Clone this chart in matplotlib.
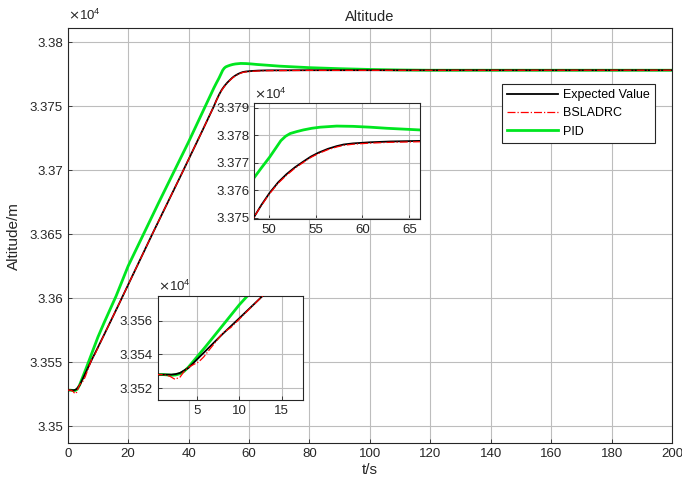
import numpy as np
import matplotlib
matplotlib.use("Agg")
import matplotlib.pyplot as plt

plt.rcParams['font.family'] = ['Liberation Sans', 'DejaVu Sans']

# ---- data (altitude in m) ----
t_exp = [0, 2, 2.5, 3, 4, 5, 6, 8, 10, 12.8, 17.1, 28, 37.9, 44, 46, 47.5, 48.4, 49.2,
         50.1, 51, 51.9, 52.8, 53.7, 54.5, 55.3, 56.3, 57.25, 58, 59, 60.8, 63, 66.1,
         80, 200]
v_exp = [33528, 33528, 33528.3, 33529, 33532, 33537, 33542, 33552, 33561.5, 33575,
         33596, 33650, 33698, 33728, 33738, 33745.5, 33750, 33754.5, 33759, 33762.8,
         33765.8, 33768.3, 33770.4, 33772.2, 33773.6, 33775, 33776, 33776.6, 33777,
         33777.4, 33777.7, 33777.9, 33778, 33778]

t_bs = [0, 1, 1.8, 2.4, 3, 3.5, 4, 4.6, 5.2, 5.8, 6.5, 7.3, 8, 9, 10, 12.8, 17.1, 28,
        37.9, 44, 46, 47.5, 48.4, 49.2, 50.1, 51, 51.9, 52.8, 53.7, 54.5, 55.3, 56.3,
        57.25, 58, 59, 60.8, 63, 66.1, 80, 200]
v_bs = [33528, 33528, 33527, 33525.2, 33526.5, 33530, 33532.3, 33534, 33535.5,
        33538.5, 33543, 33548, 33552.5, 33556, 33561, 33575, 33596, 33650, 33698,
        33728, 33738, 33745.5, 33750, 33754.3, 33758.7, 33762.5, 33765.4, 33768,
        33770.1, 33771.9, 33773.3, 33774.7, 33775.7, 33776.3, 33776.7, 33777.1,
        33777.4, 33777.6, 33777.9, 33778]

t_pid = [0, 1, 2, 2.5, 3, 3.5, 4, 5, 6, 8, 10, 12, 14, 16, 20, 30, 40, 48.4, 49.2,
         50.1, 50.8, 51.3, 51.8, 52.3, 53, 53.7, 54.6, 55.5, 57.25, 59, 60.8, 62.6,
         66.1, 70, 80, 90, 100, 110, 120, 200]
v_pid = [33528, 33528, 33527.6, 33527.8, 33528.5, 33530, 33532.5, 33538.5, 33544.5,
         33557, 33569.5, 33580.5, 33591, 33601.5, 33625, 33674, 33722, 33764.3,
         33768, 33772, 33775.5, 33778, 33779.6, 33780.6, 33781.3, 33781.9, 33782.5,
         33782.9, 33783.3, 33783.2, 33782.9, 33782.5, 33781.9, 33781.2, 33780,
         33779.2, 33778.6, 33778.2, 33778, 33778]

labels = ['Expected Value', 'BSLADRC', 'PID']

main_xticks = [0, 20, 40, 60, 80, 100, 120, 140, 160, 180, 200]
main_yticks = [3.35, 3.355, 3.36, 3.365, 3.37, 3.375, 3.38]
in1_xticks = [50, 55, 60, 65]
in1_yticks = [3.375, 3.376, 3.377, 3.378, 3.379]
in2_xticks = [5, 10, 15]
in2_yticks = [3.352, 3.354, 3.356]

SCALE = 1e4
grid_kw = dict(color='#bdbdbd', linewidth=0.8)


def draw(ax):
    ax.plot(t_exp, np.array(v_exp) / SCALE, color='black', lw=1.3, label=labels[0], zorder=3)
    ax.plot(t_bs, np.array(v_bs) / SCALE, color='red', lw=0.9, ls='-.', label=labels[1], zorder=4)
    ax.plot(t_pid, np.array(v_pid) / SCALE, color='#00e620', lw=2.0, label=labels[2], zorder=2)


def style(ax, xt, yt, fs):
    ax.set_xticks(xt)
    ax.set_yticks(yt)
    ax.set_yticklabels(['%g' % v for v in yt])
    ax.set_xticklabels(['%g' % v for v in xt])
    ax.grid(True, **grid_kw)
    ax.set_axisbelow(True)
    ax.tick_params(labelsize=fs, colors='#262626', direction='in', length=3, width=0.6)
    for s in ax.spines.values():
        s.set_color('#262626')
        s.set_linewidth(0.8)
    ax.text(0.0, 1.012, r'$\times\mathregular{10^{4}}$', transform=ax.transAxes,
            ha='left', va='bottom', fontsize=fs, color='#262626')


fig = plt.figure(figsize=(6.82, 4.86), dpi=100)
ax = fig.add_axes([0.0993, 0.0879, 0.8861, 0.8545])
draw(ax)
ax.set_xlim(0, 200)
ax.set_ylim(3.34865, 3.38110)
style(ax, main_xticks, main_yticks, 9.5)
ax.set_title('Altitude', fontsize=10.5, color='#262626', pad=5)
ax.set_xlabel('t/s', fontsize=11, color='#262626', labelpad=2)
ax.set_ylabel('Altitude/m', fontsize=11, color='#262626', labelpad=6)
leg = ax.legend(loc='upper left', bbox_to_anchor=(0.719, 0.865), fontsize=9,
                handlelength=4.1, fancybox=False, framealpha=1, edgecolor='#262626',
                borderpad=0.4, labelspacing=0.5, handletextpad=0.4, borderaxespad=0)
leg.get_frame().set_linewidth(0.8)

ax1 = fig.add_axes([0.3724, 0.5494, 0.2434, 0.2387])
draw(ax1)
ax1.set_xlim(48.43, 66.14)
ax1.set_ylim(3.37495, 3.37917)
style(ax1, in1_xticks, in1_yticks, 9.5)

ax2 = fig.add_axes([0.2312, 0.1770, 0.2126, 0.2146])
draw(ax2)
ax2.set_xlim(0.36, 17.48)
ax2.set_ylim(3.35129, 3.35749)
style(ax2, in2_xticks, in2_yticks, 9.5)

fig.savefig('out.png', dpi=100)
